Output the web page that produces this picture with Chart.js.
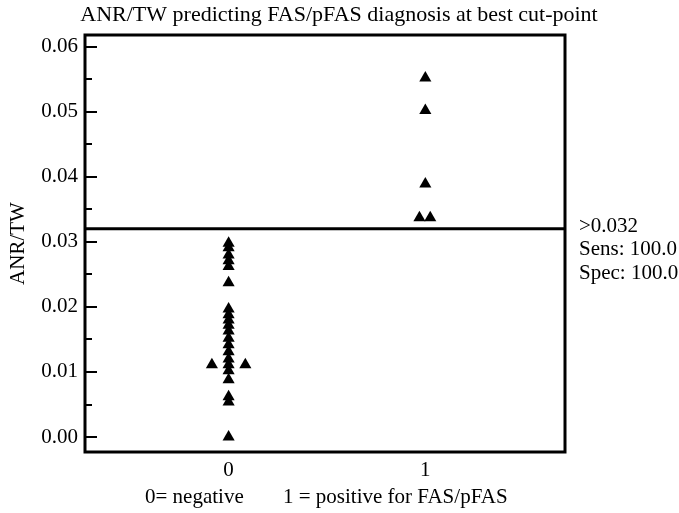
<!DOCTYPE html>
<html>
<head>
<meta charset="utf-8">
<script src="https://cdn.jsdelivr.net/npm/chart.js@4/dist/chart.umd.min.js"></script>
<style>
  html, body { margin: 0; padding: 0; background: #fff; }
  #wrap { width: 679px; height: 513px; }
</style>
</head>
<body>
<div id="wrap"><canvas id="dot-chart"></canvas></div>
<script>
// ANR/TW values by diagnosis group (0 = negative, 1 = FAS/pFAS)
const negValues = [0.0298, 0.0291, 0.0280, 0.0271, 0.0262, 0.0237, 0.0197, 0.0188, 0.0180,
  0.0172, 0.0163, 0.0152, 0.0142, 0.0131, 0.0120, 0.0111, 0.0111, 0.0111, 0.0102, 0.0088,
  0.0062, 0.0054, 0.0000];
const negJitter = [0, 0, 0, 0, 0, 0, 0, 0, 0, 0, 0, 0, 0, 0, 0, 0, -0.085, 0.085, 0, 0, 0, 0, 0];
const posValues = [0.0552, 0.0502, 0.0389, 0.0337, 0.0337];
const posJitter = [0, 0, 0, -0.03, 0.025];
const groups = [0, 1];
const cutPoint = 0.032;
const cutStats = [">0.032", "Sens: 100.0", "Spec: 100.0"];

const FONT = "'Liberation Serif', 'Times New Roman', serif";
const X_MIN = -0.73, X_MAX = 1.71;

const toPoints = (vals, jit, g) => vals.map((v, i) => ({ x: g + jit[i], y: v }));

// frame, inside ticks and the free text around the plot
const decor = {
  id: "decor",
  afterDraw(chart) {
    const { ctx, chartArea: a, scales } = chart;
    const y = scales.y;
    ctx.save();
    ctx.strokeStyle = "#000";
    ctx.lineWidth = 2;
    y.ticks.forEach((t, i) => {
      const py = Math.round(y.getPixelForValue(t.value));
      const len = i % 2 === 0 ? 12 : 7;
      ctx.beginPath();
      ctx.moveTo(a.left, py);
      ctx.lineTo(a.left + len, py);
      ctx.stroke();
    });
    ctx.lineWidth = 3;
    ctx.strokeRect(a.left, a.top, a.right - a.left, a.bottom - a.top);

    ctx.fillStyle = "#000";
    ctx.textBaseline = "middle";
    ctx.font = "22px " + FONT;
    ctx.textAlign = "center";
    ctx.fillText("ANR/TW predicting FAS/pFAS diagnosis at best cut-point", 339, 15);

    ctx.textAlign = "left";
    ctx.font = "21px " + FONT;
    ctx.fillText("0= negative", 145, 497);
    ctx.fillText("1 = positive for FAS/pFAS", 283, 497);

    cutStats.forEach((s, i) => ctx.fillText(s, 579, 226 + i * 23.5));
    ctx.restore();
  },
};

new Chart(document.getElementById("dot-chart"), {
  type: "scatter",
  data: {
    datasets: [
      {
        data: toPoints(negValues, negJitter, groups[0]).concat(toPoints(posValues, posJitter, groups[1])),
        pointStyle: "triangle",
        pointRadius: 7,
        backgroundColor: "#000",
        borderColor: "#000",
        borderWidth: 0,
      },
      {
        data: [{ x: X_MIN, y: cutPoint }, { x: X_MAX, y: cutPoint }],
        showLine: true,
        borderColor: "#000",
        borderWidth: 3,
        pointRadius: 0,
      },
    ],
  },
  options: {
    responsive: true,
    maintainAspectRatio: false,
    animation: false,
    layout: { padding: { top: 35, right: 114, left: 0, bottom: 0 } },
    plugins: { legend: { display: false }, tooltip: { enabled: false } },
    scales: {
      x: {
        type: "linear",
        min: X_MIN,
        max: X_MAX,
        afterBuildTicks: (s) => { s.ticks = groups.map((g) => ({ value: g })); },
        afterFit: (s) => { s.height = 61; },
        grid: { display: false, drawTicks: false },
        border: { display: false },
        ticks: { color: "#000", padding: 6, font: { family: FONT, size: 21 } },
      },
      y: {
        min: -0.0023,
        max: 0.0618,
        afterBuildTicks: (s) => {
          const t = [];
          for (let i = 0; i <= 12; i++) t.push({ value: i * 0.005 });
          s.ticks = t;
        },
        afterFit: (s) => { s.width = 85; },
        grid: { display: false, drawTicks: false },
        border: { display: false },
        ticks: {
          color: "#000",
          padding: 7,
          font: { family: FONT, size: 21 },
          callback: (v, i) => (i % 2 === 0 ? v.toFixed(2) : ""),
        },
        title: {
          display: true,
          text: "ANR/TW",
          color: "#000",
          padding: { top: 6, bottom: 0 },
          font: { family: FONT, size: 21 },
        },
      },
    },
  },
  plugins: [decor],
});
</script>
</body>
</html>
